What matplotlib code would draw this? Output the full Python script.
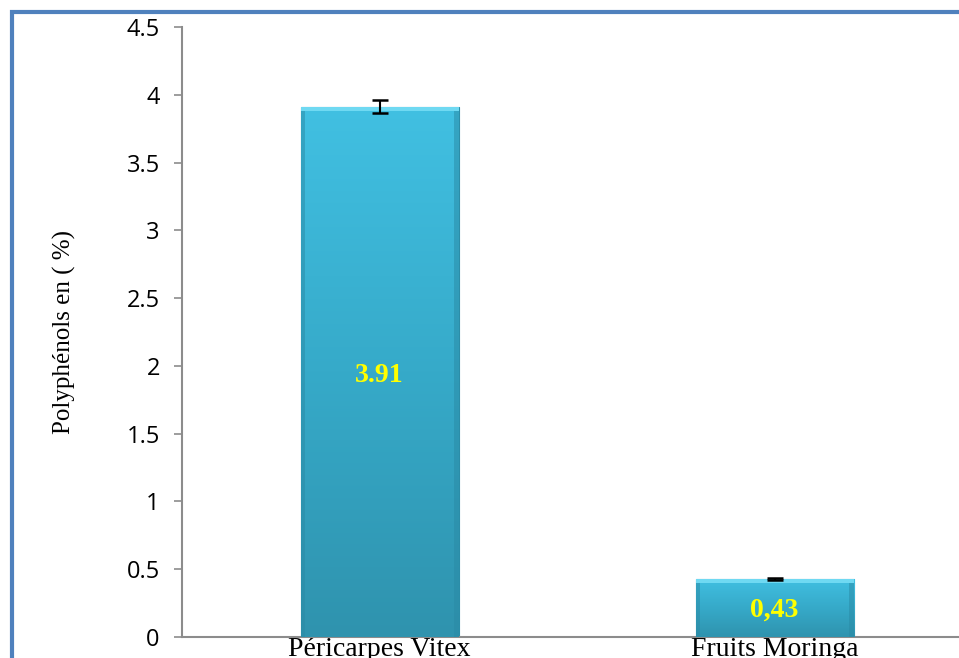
import matplotlib.pyplot as plt
import numpy as np
from matplotlib.patches import Rectangle
from matplotlib.colors import LinearSegmentedColormap

categories = ["Péricarpes Vitex", "Fruits Moringa"]
values = [3.91, 0.43]
errors = [0.048, 0.008]
labels = ["3.91", "0,43"]
yticks = [0, 0.5, 1, 1.5, 2, 2.5, 3, 3.5, 4, 4.5]
ytick_labels = ["0", "0.5", "1", "1.5", "2", "2.5", "3", "3.5", "4", "4.5"]

fig = plt.figure(figsize=(9.59, 6.58), dpi=100)
ax = fig.add_axes([182 / 959, 21 / 658, 790 / 959, 610 / 658])

x = np.arange(len(categories))
bars = ax.bar(x, values, width=0.4, color="#36AED0", edgecolor="#2B8DA8", linewidth=0.8, zorder=2)

# gradient fill clipped to each bar
grad = np.linspace(0, 1, 256).reshape(-1, 1)
cmap = LinearSegmentedColormap.from_list("bar", ["#2F93AE", "#36AAC9", "#41C0E2"])
for b in bars:
    bx, by = b.get_x(), b.get_y()
    w, h = b.get_width(), b.get_height()
    im = ax.imshow(grad, extent=[bx, bx + w, by, by + h], origin="lower", cmap=cmap,
                   aspect="auto", zorder=3)
    im.set_clip_path(b)
    # bevel: light top edge, slightly darker sides
    ax.add_patch(Rectangle((bx, by + h - 0.03), w, 0.03, color="#6FD9F2", zorder=4, lw=0))
    ax.add_patch(Rectangle((bx, by), 0.012, h - 0.03, color="#2A8AA5", alpha=0.5, zorder=4, lw=0))
    ax.add_patch(Rectangle((bx + w - 0.012, by), 0.012, h - 0.03, color="#2A8AA5", alpha=0.5, zorder=4, lw=0))

ax.errorbar(x, values, yerr=errors, fmt="none", ecolor="black", elinewidth=1.5,
            capsize=6, capthick=1.8, zorder=5)

ax.text(x[0], 1.93, labels[0], ha="center", va="center", color="#FFFF00",
        fontsize=20, fontweight="bold", family="Liberation Serif", zorder=6)
ax.text(x[1], 0.2, labels[1], ha="center", va="center", color="#FFFF00",
        fontsize=20, fontweight="bold", family="Liberation Serif", zorder=6)

ax.set_xlim(-0.5, 1.5)
ax.set_ylim(0, 4.5)
ax.set_yticks(yticks)
ax.set_yticklabels(ytick_labels, fontsize=17, family="Open Sans")
ax.set_xticks(x)
ax.set_xticklabels(categories, fontsize=20, family="Liberation Serif")
ax.tick_params(axis="x", length=0, pad=0)
ax.tick_params(axis="y", length=6, color="#8C8C8C", width=1.2, pad=10)
for s in ["top", "right"]:
    ax.spines[s].set_visible(False)
for s in ["left", "bottom"]:
    ax.spines[s].set_color("#8C8C8C")
    ax.spines[s].set_linewidth(1.5)

ax.set_ylabel("Polyphénols en ( %)", fontsize=18, family="Liberation Serif")
ax.yaxis.set_label_coords(-0.134, 0.5)

# outer chart frame
fig.patches.append(Rectangle((12 / 959, -0.05), 1.2, (646 / 658) + 0.05, transform=fig.transFigure,
                             fill=False, edgecolor="#4F81BD", linewidth=3, zorder=10))

fig.savefig("out.png", dpi=100)
